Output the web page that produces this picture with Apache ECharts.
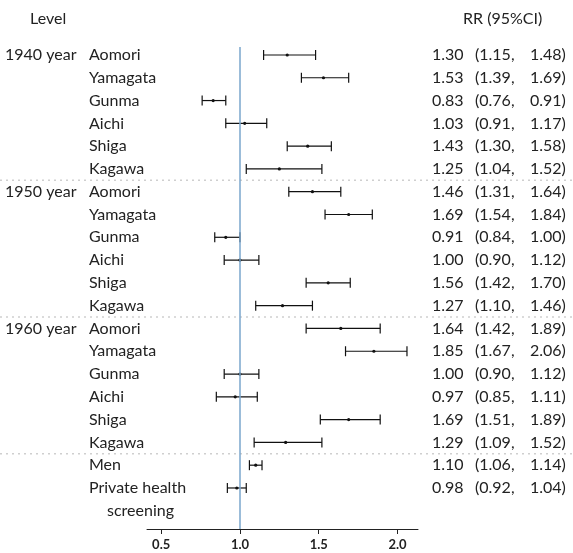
<!DOCTYPE html>
<html>
<head>
<meta charset="utf-8">
<script src="https://cdn.jsdelivr.net/npm/echarts@6/dist/echarts.min.js"></script>
<style>
  html, body { margin: 0; padding: 0; background: #fff; }
  #chart { width: 573px; height: 553px; }
</style>
</head>
<body>
<div id="chart"></div>
<script>
// rows, top to bottom
const groupLabels = ['1940 year', '', '', '', '', '',
                     '1950 year', '', '', '', '', '',
                     '1960 year', '', '', '', '', '',
                     '', ''];
const levels = ['Aomori', 'Yamagata', 'Gunma', 'Aichi', 'Shiga', 'Kagawa',
                'Aomori', 'Yamagata', 'Gunma', 'Aichi', 'Shiga', 'Kagawa',
                'Aomori', 'Yamagata', 'Gunma', 'Aichi', 'Shiga', 'Kagawa',
                'Men', 'Private health\nscreening'];
const rr    = [1.30, 1.53, 0.83, 1.03, 1.43, 1.25,
               1.46, 1.69, 0.91, 1.00, 1.56, 1.27,
               1.64, 1.85, 1.00, 0.97, 1.69, 1.29,
               1.10, 0.98];
const lower = [1.15, 1.39, 0.76, 0.91, 1.30, 1.04,
               1.31, 1.54, 0.84, 0.90, 1.42, 1.10,
               1.42, 1.67, 0.90, 0.85, 1.51, 1.09,
               1.06, 0.92];
const upper = [1.48, 1.69, 0.91, 1.17, 1.58, 1.52,
               1.64, 1.84, 1.00, 1.12, 1.70, 1.46,
               1.89, 2.06, 1.12, 1.11, 1.89, 1.52,
               1.14, 1.04];
const separators = [5.5, 11.5, 17.5];
const xTicks = [0.5, 1.0, 1.5, 2.0];
const refValue = 1.0;

const font = 'Lato, "Open Sans", sans-serif';
const textColor = '#222';

const rows = levels.map((name, i) => [i, rr[i], lower[i], upper[i]]);

const chart = echarts.init(document.getElementById('chart'));

chart.setOption({
  animation: false,
  grid: { left: 147, right: 155, top: 47, bottom: 24 },
  xAxis: {
    type: 'value',
    min: 0.41,
    max: 2.13,
    splitLine: { show: false },
    axisLine: { onZero: false, lineStyle: { color: '#222', width: 1 } },
    axisTick: { customValues: xTicks, length: 5, lineStyle: { color: '#222' } },
    axisLabel: {
      customValues: xTicks,
      formatter: v => v.toFixed(1),
      color: '#222', fontFamily: font, fontSize: 13, fontWeight: 'bold', margin: 9
    }
  },
  yAxis: {
    type: 'value',
    inverse: true,
    min: -0.35,
    max: 20.8,
    show: false
  },
  graphic: [
    { type: 'text', left: 30, top: 11, style: { text: 'Level', font: '16px ' + font, fill: textColor } },
    { type: 'text', left: 463, top: 11, style: { text: 'RR (95%CI)', font: '16px ' + font, fill: textColor } }
  ],
  series: [
    {
      // dotted separators between groups
      type: 'custom',
      clip: false,
      silent: true,
      data: separators.map(s => [1, s]),
      encode: { x: 0, y: 1 },
      renderItem: (params, api) => {
        const y = api.coord([1, api.value(1)])[1];
        return {
          type: 'line',
          shape: { x1: 0, y1: y, x2: api.getWidth(), y2: y },
          style: { stroke: '#cfcfcf', lineWidth: 1.5, lineDash: [2, 4] }
        };
      }
    },
    {
      // confidence intervals
      type: 'custom',
      silent: true,
      data: rows,
      encode: { x: [1, 2, 3], y: 0 },
      renderItem: (params, api) => {
        const i = api.value(0);
        const lo = api.coord([api.value(2), i]);
        const hi = api.coord([api.value(3), i]);
        const mid = api.coord([api.value(1), i]);
        const h = 5;
        const st = { stroke: '#111', lineWidth: 1.2 };
        return {
          type: 'group',
          children: [
            { type: 'line', shape: { x1: lo[0], y1: lo[1], x2: hi[0], y2: hi[1] }, style: st },
            { type: 'line', shape: { x1: lo[0], y1: lo[1] - h, x2: lo[0], y2: lo[1] + h }, style: st },
            { type: 'line', shape: { x1: hi[0], y1: hi[1] - h, x2: hi[0], y2: hi[1] + h }, style: st },
            { type: 'circle', shape: { cx: mid[0], cy: mid[1], r: 1.6 }, style: { fill: '#111' } }
          ]
        };
      },
      markLine: {
        silent: true,
        symbol: 'none',
        label: { show: false },
        lineStyle: { color: '#7aa6cc', width: 1.5, type: 'solid' },
        data: [{ xAxis: refValue }]
      }
    },
    {
      // text columns
      type: 'custom',
      clip: false,
      silent: true,
      data: rows,
      encode: { x: 1, y: 0 },
      renderItem: (params, api) => {
        const i = api.value(0);
        const y = api.coord([1, i])[1];
        const step = api.size([0, 1])[1];
        const txt = (x, s) => ({
          type: 'text', x: x, y: y,
          style: { text: s, font: '16px ' + font, fill: textColor, verticalAlign: 'middle', align: 'left' }
        });
        const parts = levels[i].split('\n');
        const kids = [
          txt(5, groupLabels[i]),
          txt(89, parts[0]),
          txt(432, rr[i].toFixed(2)),
          txt(475, '(' + lower[i].toFixed(2) + ','),
          txt(530, upper[i].toFixed(2) + ')')
        ];
        if (parts[1]) {
          const t = txt(107, parts[1]);
          t.y = y + step;
          kids.push(t);
        }
        return { type: 'group', children: kids };
      }
    }
  ]
});
</script>
</body>
</html>
